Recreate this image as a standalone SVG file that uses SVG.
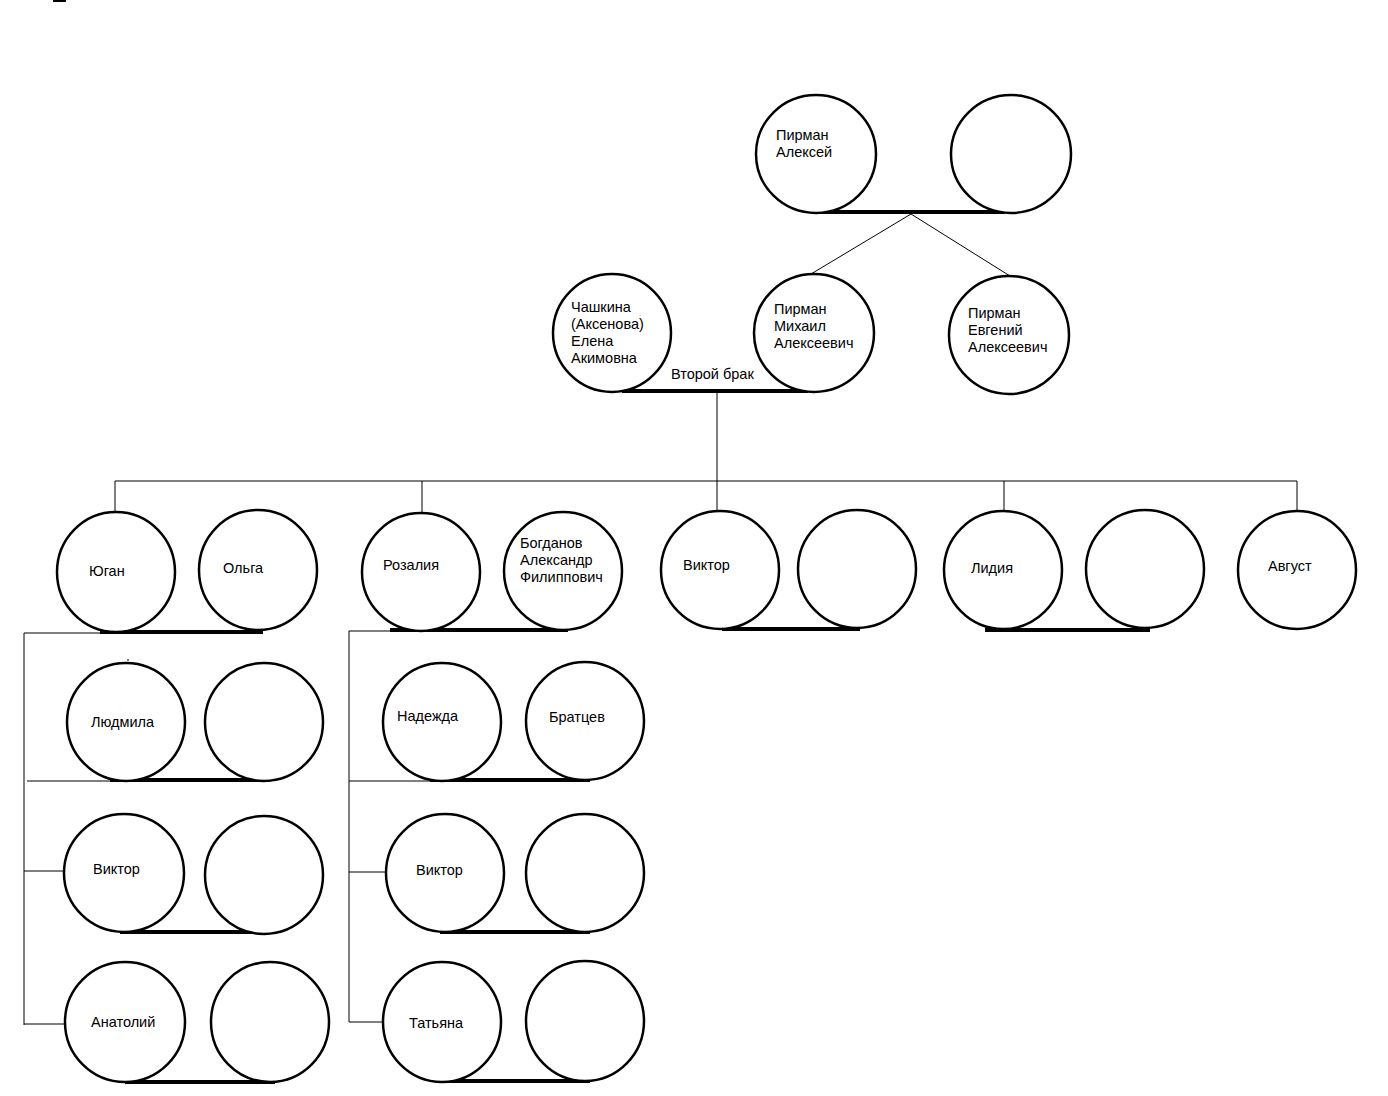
<svg xmlns="http://www.w3.org/2000/svg" width="1388" height="1096" viewBox="0 0 1388 1096">
<style>
.p{fill:#fff;stroke:#000;stroke-width:2.5}
.t{font-family:"Liberation Sans",Arial,sans-serif;font-size:14.5px;fill:#000}
.thin{stroke:#000;stroke-width:1;fill:none}
.m{stroke:#000;stroke-width:4;fill:none}
</style>
<rect x="53" y="0" width="13" height="2" fill="#000"/>
<g id="connectors">
<line class="m" x1="815" y1="212" x2="1005" y2="212"/>
<line class="thin" x1="911" y1="214" x2="811" y2="274"/>
<line class="thin" x1="911" y1="214" x2="1010" y2="276"/>
<line class="m" x1="622" y1="391" x2="808" y2="391"/>
<line class="thin" x1="717" y1="393" x2="717" y2="511"/>
<line class="thin" x1="115" y1="481" x2="1297" y2="481"/>
<line class="thin" x1="115" y1="481" x2="115" y2="512"/>
<line class="thin" x1="422" y1="481" x2="422" y2="513"/>
<line class="thin" x1="1004" y1="481" x2="1004" y2="511"/>
<line class="thin" x1="1297" y1="481" x2="1297" y2="511"/>
<line class="thin" x1="24" y1="633" x2="100" y2="633"/>
<line class="m" x1="100" y1="632" x2="263" y2="632"/>
<line class="thin" x1="24" y1="633" x2="24" y2="1025"/>
<line class="thin" x1="349" y1="631" x2="390" y2="631"/>
<line class="m" x1="390" y1="630" x2="568" y2="630"/>
<line class="thin" x1="349" y1="631" x2="349" y2="1022"/>
<line class="m" x1="722" y1="629" x2="860" y2="629"/>
<line class="m" x1="985" y1="630" x2="1150" y2="630"/>
<line class="thin" x1="27" y1="781" x2="110" y2="781"/>
<line class="m" x1="110" y1="780" x2="270" y2="780"/>
<line class="thin" x1="24" y1="871" x2="64" y2="871"/>
<line class="m" x1="120" y1="932" x2="268" y2="932"/>
<line class="thin" x1="24" y1="1024" x2="65" y2="1024"/>
<line class="m" x1="125" y1="1082" x2="275" y2="1082"/>
<line class="thin" x1="349" y1="781" x2="430" y2="781"/>
<line class="m" x1="430" y1="780" x2="590" y2="780"/>
<line class="thin" x1="349" y1="872" x2="386" y2="872"/>
<line class="m" x1="440" y1="932" x2="590" y2="932"/>
<line class="thin" x1="349" y1="1022" x2="383" y2="1022"/>
<line class="m" x1="440" y1="1081" x2="590" y2="1081"/>
<line class="thin" x1="128" y1="659" x2="128" y2="661"/>
<text class="t" x="671" y="379">Второй брак</text>
</g>
<g id="n-aleksey"><ellipse class="p" cx="816" cy="154" rx="60" ry="59"/><text class="t" x="776" y="140">Пирман</text><text class="t" x="776" y="157">Алексей</text></g>
<g id="n-aleksey-spouse"><ellipse class="p" cx="1011" cy="154" rx="60" ry="59"/></g>
<g id="n-chashkina"><ellipse class="p" cx="612" cy="333" rx="59" ry="59"/><text class="t" x="571" y="312">Чашкина</text><text class="t" x="571" y="329">(Аксенова)</text><text class="t" x="571" y="346">Елена</text><text class="t" x="571" y="363">Акимовна</text></g>
<g id="n-mikhail"><ellipse class="p" cx="814" cy="333" rx="60" ry="59"/><text class="t" x="774" y="314">Пирман</text><text class="t" x="774" y="331">Михаил</text><text class="t" x="774" y="348">Алексеевич</text></g>
<g id="n-evgeny"><ellipse class="p" cx="1009" cy="335" rx="60" ry="59"/><text class="t" x="968" y="318">Пирман</text><text class="t" x="968" y="335">Евгений</text><text class="t" x="968" y="352">Алексеевич</text></g>
<g id="n-yugan"><ellipse class="p" cx="116" cy="572" rx="59" ry="60"/><text class="t" x="89" y="576">Юган</text></g>
<g id="n-olga"><ellipse class="p" cx="258" cy="570" rx="59" ry="60"/><text class="t" x="223" y="573">Ольга</text></g>
<g id="n-rozaliya"><ellipse class="p" cx="421" cy="572" rx="59" ry="59"/><text class="t" x="383" y="570">Розалия</text></g>
<g id="n-bogdanov"><ellipse class="p" cx="563" cy="571" rx="59" ry="59"/><text class="t" x="520" y="548">Богданов</text><text class="t" x="520" y="565">Александр</text><text class="t" x="520" y="582">Филиппович</text></g>
<g id="n-viktor1"><ellipse class="p" cx="720" cy="570" rx="59" ry="59"/><text class="t" x="683" y="570">Виктор</text></g>
<g id="n-viktor1-spouse"><ellipse class="p" cx="857" cy="569" rx="59" ry="59"/></g>
<g id="n-lidiya"><ellipse class="p" cx="1003" cy="570" rx="59" ry="59"/><text class="t" x="971" y="573">Лидия</text></g>
<g id="n-lidiya-spouse"><ellipse class="p" cx="1145" cy="569" rx="59" ry="59"/></g>
<g id="n-avgust"><ellipse class="p" cx="1297" cy="570" rx="59" ry="59"/><text class="t" x="1268" y="571">Август</text></g>
<g id="n-lyudmila"><ellipse class="p" cx="126" cy="722" rx="59" ry="59"/><text class="t" x="91" y="727">Людмила</text></g>
<g id="n-lyudmila-spouse"><ellipse class="p" cx="264" cy="722" rx="59" ry="59"/></g>
<g id="n-viktor2"><ellipse class="p" cx="124" cy="873" rx="60" ry="59"/><text class="t" x="93" y="874">Виктор</text></g>
<g id="n-viktor2-spouse"><ellipse class="p" cx="264" cy="875" rx="59" ry="59"/></g>
<g id="n-anatoliy"><ellipse class="p" cx="125" cy="1022" rx="60" ry="60"/><text class="t" x="91" y="1027">Анатолий</text></g>
<g id="n-anatoliy-spouse"><ellipse class="p" cx="270" cy="1022" rx="59" ry="60"/></g>
<g id="n-nadezhda"><ellipse class="p" cx="442" cy="722" rx="59" ry="59"/><text class="t" x="397" y="721">Надежда</text></g>
<g id="n-bratcev"><ellipse class="p" cx="585" cy="721" rx="59" ry="59"/><text class="t" x="549" y="722">Братцев</text></g>
<g id="n-viktor3"><ellipse class="p" cx="445" cy="873" rx="59" ry="59"/><text class="t" x="416" y="875">Виктор</text></g>
<g id="n-viktor3-spouse"><ellipse class="p" cx="585" cy="873" rx="59" ry="59"/></g>
<g id="n-tatyana"><ellipse class="p" cx="442" cy="1022" rx="59" ry="60"/><text class="t" x="409" y="1028">Татьяна</text></g>
<g id="n-tatyana-spouse"><ellipse class="p" cx="585" cy="1021" rx="59" ry="60"/></g>
</svg>
